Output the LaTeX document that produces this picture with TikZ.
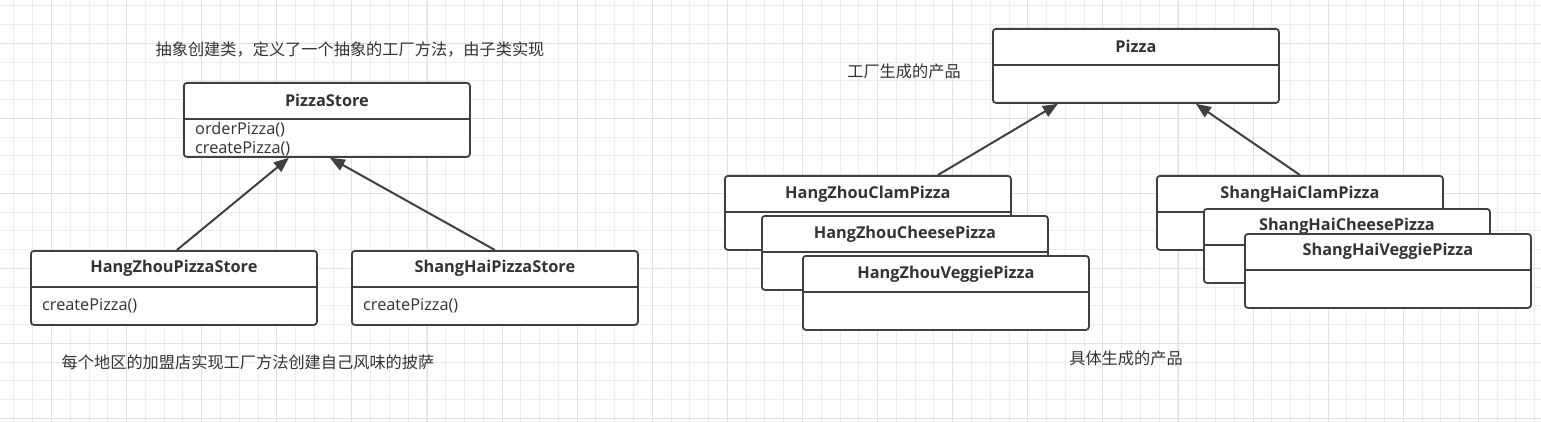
\documentclass[tikz,border=0pt]{standalone}
\usepackage{fontspec}
\setmainfont{Open Sans}
\newfontfamily\cjk{Noto Sans CJK SC}
\usepackage{tikz}
\usetikzlibrary{arrows.meta,calc}
\definecolor{gridminor}{HTML}{EDEDED}
\definecolor{gridmajor}{HTML}{E0E0E0}
\definecolor{linegray}{HTML}{404040}
\definecolor{textgray}{HTML}{333333}

\begin{document}
\begin{tikzpicture}[x=1pt,y=-1pt,
	classbox/.style={draw=linegray,line width=1.8pt,rounded corners=3pt,fill=white,minimum width=286pt,minimum height=74pt,anchor=north west,inner sep=0pt},
	divider/.style={draw=linegray,line width=1.8pt},
	classname/.style={font=\bfseries\fontsize{16.3}{19}\selectfont,text=textgray},
	ops/.style={font=\fontsize{16.3}{19}\selectfont,text=textgray,anchor=west,align=left,inner sep=0pt},
	note/.style={font=\cjk\fontsize{16.2}{20}\selectfont,text=textgray},
	inherit/.style={draw=linegray,line width=2pt,-{Triangle[length=15pt,width=12pt]}}]
						\useasboundingbox (0,0) rectangle (1541,422);
						\fill[white] (0,0) rectangle (1541,422);
						
						% grid, snapped to whole pixels
						\foreach \i in {-2,...,79}
							\draw[gridminor,line width=1pt] ({int(51.5+18.775*\i)+0.5},0) -- ++(0,422);
						\foreach \j in {-2,...,20}
							\draw[gridminor,line width=1pt] (0,{int(43.3+18.75*\j)+0.5}) -- ++(1541,0);
						\foreach \i in {0,...,19}
							\draw[gridmajor,line width=1pt] ({int(51.5+75.1*\i)+0.5},0) -- ++(0,422);
						\foreach \j in {0,...,5}
							\draw[gridmajor,line width=1pt] (0,{int(43.3+75*\j)+0.5}) -- ++(1541,0);
						
						% creator side
						\node[classbox] (ps) at (183,82) {};
						\draw[divider] ($(ps.north west)+(0,37)$) -- ($(ps.north east)+(0,37)$);
						\node[classname] (ps-name) at ($(ps.north)+(0,18.5)$) {PizzaStore};
						\node[ops] (ps-ops) at (195,139.5) {orderPizza()\\createPizza()};
						
						\node[classbox] (hzs) at (30,250) {};
						\draw[divider] ($(hzs.north west)+(0,37)$) -- ($(hzs.north east)+(0,37)$);
						\node[classname] (hzs-name) at ($(hzs.north)+(0,18.5)$) {HangZhouPizzaStore};
						\node[ops] (hzs-ops) at (42,305.5) {createPizza()};
						
						\node[classbox] (shs) at (351,250) {};
						\draw[divider] ($(shs.north west)+(0,37)$) -- ($(shs.north east)+(0,37)$);
						\node[classname] (shs-name) at ($(shs.north)+(0,18.5)$) {ShangHaiPizzaStore};
						\node[ops] (shs-ops) at (363,305.5) {createPizza()};
						
						\draw[inherit] ($(hzs.north)+(3,0)$) -- ($(ps.south)+(-38,0)$);
						\draw[inherit] (shs.north) -- ($(ps.south)+(3,0)$);
						
						% product side
						\node[classbox] (pz) at (992,28) {};
						\draw[divider] ($(pz.north west)+(0,37)$) -- ($(pz.north east)+(0,37)$);
						\node[classname] (pz-name) at ($(pz.north)+(0,18.5)$) {Pizza};
						
						\node[classbox] (hzclam) at (724,175) {};
						\draw[divider] ($(hzclam.north west)+(0,37)$) -- ($(hzclam.north east)+(0,37)$);
						\node[classname] (hzclam-name) at ($(hzclam.north)+(0,19)$) {HangZhouClamPizza};
						
						\node[classbox] (hzcheese) at (761,215) {};
						\draw[divider] ($(hzcheese.north west)+(0,37)$) -- ($(hzcheese.north east)+(0,37)$);
						\node[classname] (hzcheese-name) at ($(hzcheese.north)+(0,19)$) {HangZhouCheesePizza};
						
						\node[classbox] (hzveggie) at (802,255) {};
						\draw[divider] ($(hzveggie.north west)+(0,37)$) -- ($(hzveggie.north east)+(0,37)$);
						\node[classname] (hzveggie-name) at ($(hzveggie.north)+(0,19)$) {HangZhouVeggiePizza};
						
						\node[classbox] (shclam) at (1156,175) {};
						\draw[divider] ($(shclam.north west)+(0,37)$) -- ($(shclam.north east)+(0,37)$);
						\node[classname] (shclam-name) at ($(shclam.north)+(0,19)$) {ShangHaiClamPizza};
						
						\node[classbox] (shcheese) at (1203,208) {};
						\draw[divider] ($(shcheese.north west)+(0,37)$) -- ($(shcheese.north east)+(0,37)$);
						\node[classname] (shcheese-name) at ($(shcheese.north)+(0,18.5)$) {ShangHaiCheesePizza};
						
						\node[classbox] (shveggie) at (1244,233) {};
						\draw[divider] ($(shveggie.north west)+(0,37)$) -- ($(shveggie.north east)+(0,37)$);
						\node[classname] (shveggie-name) at ($(shveggie.north)+(0,18.5)$) {ShangHaiVeggiePizza};
						
						\draw[inherit] ($(hzclam.north)+(70,0)$) -- ($(pz.south)+(-78,0)$);
						\draw[inherit] (shclam.north) -- ($(pz.south)+(60,0)$);
						
						% notes
						\node[note] (n-creator) at (350,50) {抽象创建类，定义了一个抽象的工厂方法，由子类实现};
						\node[note] (n-stores) at (248,362) {每个地区的加盟店实现工厂方法创建自己风味的披萨};
						\node[note] (n-product) at (904,71) {工厂生成的产品};
						\node[note] (n-concrete) at (1126,358) {具体生成的产品};
					\end{tikzpicture}
\end{document}
